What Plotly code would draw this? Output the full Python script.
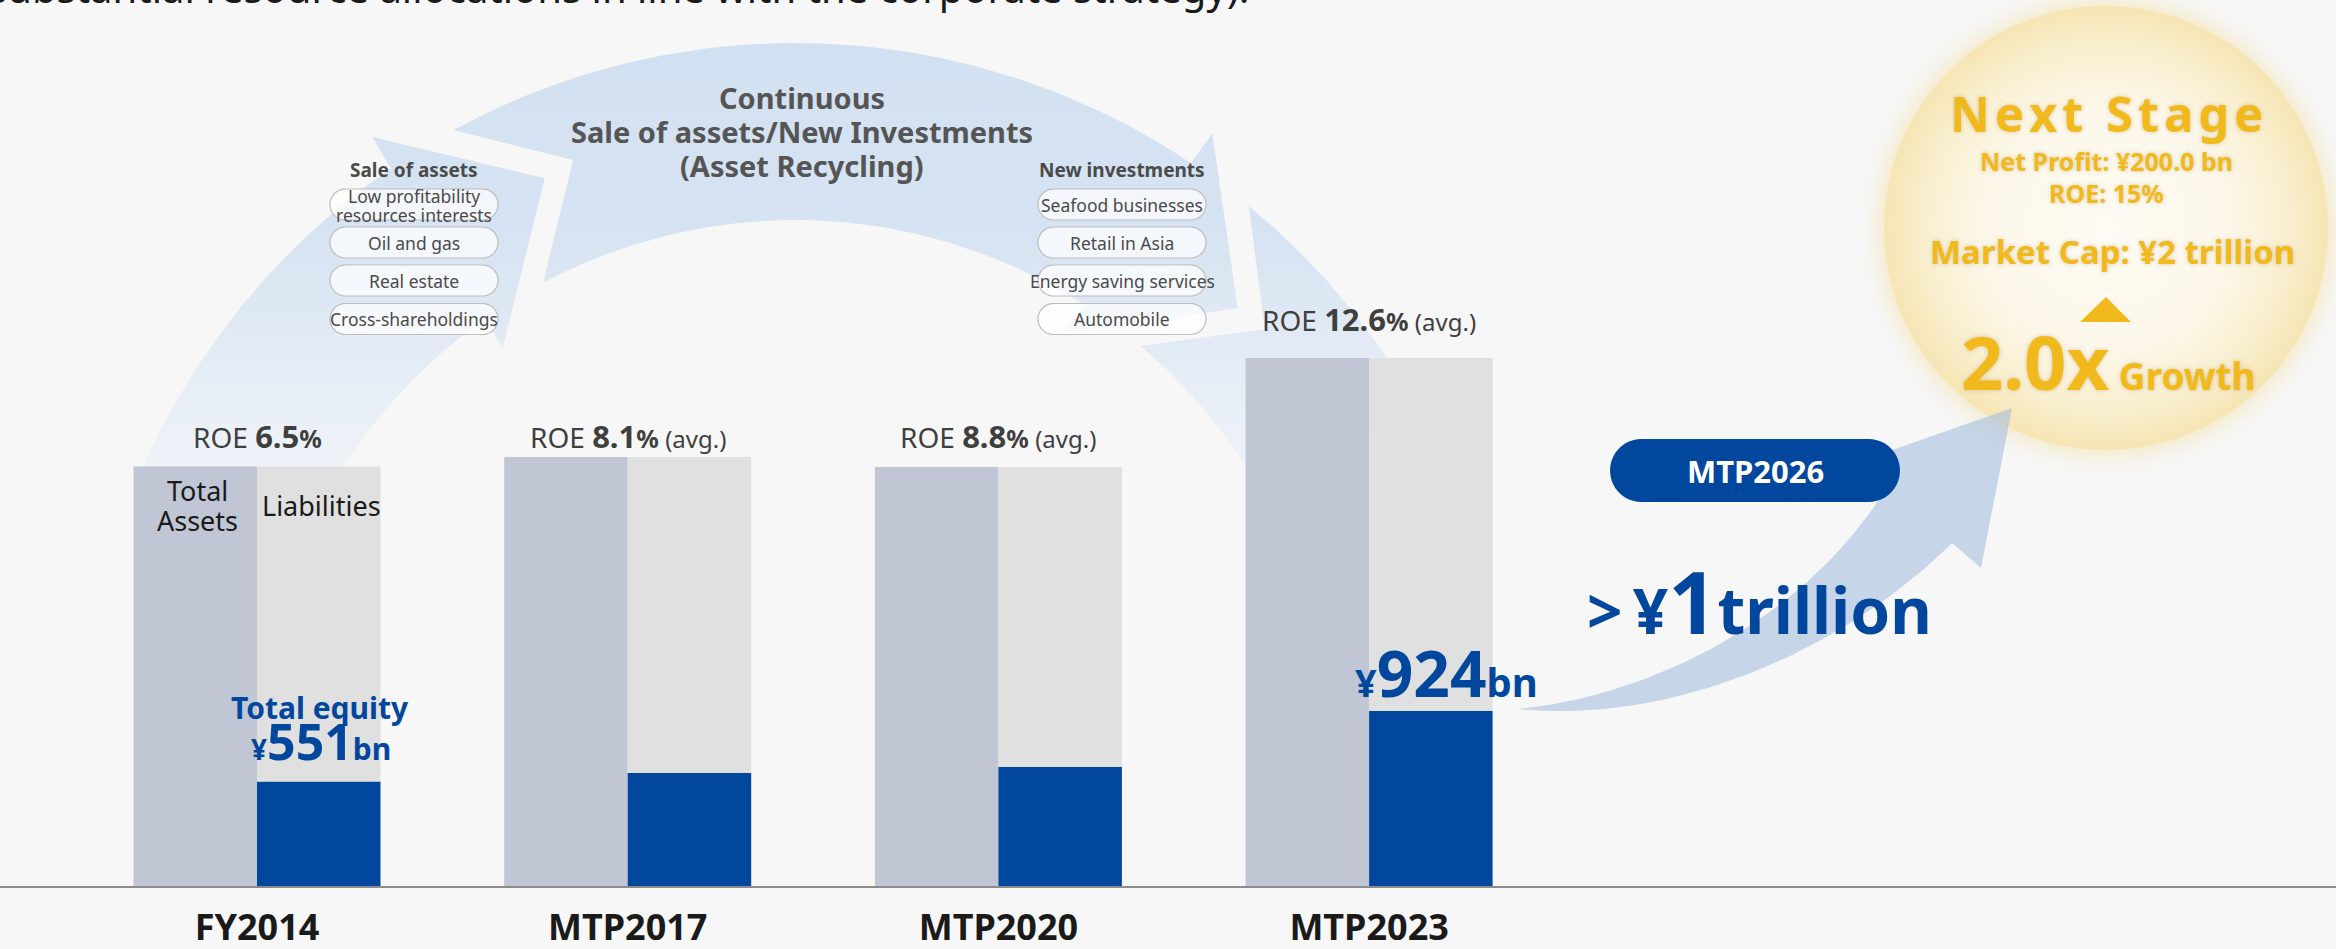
"""
Asset recycling / total equity growth chart (FY2014 -> MTP2026)
"""
import numpy as np
import plotly.graph_objects as go

# ---- data (¥bn) ----
categories = ["FY2014", "MTP2017", "MTP2020", "MTP2023"]
total_assets = [2214, 2264, 2211, 2786]
total_equity = [551, 596, 628, 924]
roe = [6.5, 8.1, 8.8, 12.6]
roe_note = ["", " (avg.)", " (avg.)", " (avg.)"]
sale_items = ["Low profitability<br>resources interests", "Oil and gas", "Real estate", "Cross-shareholdings"]
invest_items = ["Seafood businesses", "Retail in Asia", "Energy saving services", "Automobile"]

liabilities = [a - e for a, e in zip(total_assets, total_equity)]

# ---- look ----
W, H = 2336, 949
BASE = 886                      # baseline in px
PX_PER_BN = 0.1895
CAT0, CAT_STEP = 257, 370.7     # px of first category centre, spacing
BAR_W = 123.5 / CAT_STEP
FONT = "Noto Sans, Open Sans, sans-serif"
BG = "#f7f7f7"
NAVY = "#00479d"
GOLD = "#f1b91b"
C_ASSETS = "#c0c6d3"
C_LIAB = "#e0e0e0"

# big circular "asset recycling" arc
CX, CY, R_OUT, R_IN = 795, 756.5, 713.5, 536.5
CUT_Y = 467


def polar(r, a):
    t = np.radians(a)
    return CX + r * np.cos(t), CY - r * np.sin(t)


def arc(r, a0, a1, n=80):
    a = np.radians(np.linspace(a0, a1, n))
    return list(CX + r * np.cos(a)), list(CY - r * np.sin(a))


def poly(parts):
    xs, ys = [], []
    for p in parts:
        if isinstance(p[0], list):
            xs += p[0]
            ys += p[1]
        else:
            xs.append(p[0])
            ys.append(p[1])
    xs.append(xs[0])
    ys.append(ys[0])
    return xs, ys


a_out = np.degrees(np.arcsin((CY - CUT_Y) / R_OUT))
a_in = np.degrees(np.arcsin((CY - CUT_Y) / R_IN))

seg1 = poly([arc(R_OUT, 180 - a_out, 124.5), polar(750, 124.3), polar(630, 113.4),
             polar(502, 125.6), arc(R_IN, 125.3, 180 - a_in)])
seg2 = poly([arc(R_OUT, 118.6, 56.3), polar(750, 56.2), polar(630, 45.35),
             polar(501, 57.7), arc(R_IN, 57.4, 118.0), polar(636.5, 110.4)])
seg3 = poly([arc(R_OUT, 50.5, a_out), arc(R_IN, a_in, 49.9), polar(635, 42.3)])

fig = go.Figure()

arc_scale = [[0, "#d2e1f1"], [0.45, "#d6e3f2"], [1, "#eff3f8"]]
for xs, ys in (seg1, seg2, seg3):
    fig.add_trace(go.Scatter(
        x=xs, y=ys, mode="lines", fill="toself", line=dict(width=0),
        fillgradient=dict(type="vertical", start=40, stop=CUT_Y, colorscale=arc_scale),
        hoverinfo="skip", xaxis="x", yaxis="y"))

# next stage circle (glow + disc)
NX, NY, NR = 2106, 228, 222
t = np.linspace(0, 2 * np.pi, 241)
fig.add_trace(go.Scatter(
    x=list(NX + (NR + 30) * np.cos(t)), y=list(NY + (NR + 30) * np.sin(t)),
    mode="lines", fill="toself", line=dict(width=0), hoverinfo="skip",
    fillgradient=dict(type="radial", colorscale=[
        [0, "rgba(246,230,184,0.9)"], [0.87, "rgba(246,230,184,0.7)"],
        [0.93, "rgba(244,238,220,0.45)"], [1, "rgba(247,247,247,0)"]])))
fig.add_trace(go.Scatter(
    x=list(NX + NR * np.cos(t)), y=list(NY + NR * np.sin(t)),
    mode="lines", fill="toself", line=dict(width=0), hoverinfo="skip",
    fillgradient=dict(type="radial", colorscale=[
        [0, "#fdfbf4"], [0.55, "#fcf7e9"], [0.82, "#f9efcf"], [1, "#f6e5b4"]])))


# growth arrow towards next stage
def bez(p0, p1, p2, p3, n=60):
    s = np.linspace(0, 1, n)[:, None]
    pts = ((1 - s) ** 3) * np.array(p0) + 3 * ((1 - s) ** 2) * s * np.array(p1) \
        + 3 * (1 - s) * s ** 2 * np.array(p2) + s ** 3 * np.array(p3)
    return list(pts[:, 0]), list(pts[:, 1])


up = bez((1518, 709), (1640, 697), (1800, 628), (1887, 487))
low = bez((1952, 543), (1850, 645), (1680, 725), (1518, 709))
gx = up[0] + [1858, 2012, 1981] + low[0]
gy = up[1] + [462, 408, 568] + low[1]
fig.add_trace(go.Scatter(x=gx, y=gy, mode="lines", fill="toself", line=dict(width=0),
                         fillcolor="rgba(165,190,222,0.6)", hoverinfo="skip"))

# bars
fig.add_trace(go.Bar(x=list(range(4)), y=total_assets, width=BAR_W, offset=-BAR_W,
                     marker=dict(color=C_ASSETS, line_width=0), xaxis="x2", yaxis="y2",
                     name="Total Assets"))
fig.add_trace(go.Bar(x=list(range(4)), y=total_equity, width=BAR_W, offset=0,
                     marker=dict(color=NAVY, line_width=0), xaxis="x2", yaxis="y2",
                     name="Total equity"))
fig.add_trace(go.Bar(x=list(range(4)), y=liabilities, base=total_equity, width=BAR_W, offset=0,
                     marker=dict(color=C_LIAB, line_width=0), xaxis="x2", yaxis="y2",
                     name="Liabilities"))


def pill(xc, yc, w, h):
    r = h / 2
    a1 = np.radians(np.linspace(90, 270, 24))
    a2 = np.radians(np.linspace(-90, 90, 24))
    xs = list(xc - w / 2 + r + r * np.cos(a1)) + list(xc + w / 2 - r + r * np.cos(a2))
    ys = list(yc + r * np.sin(a1)) + list(yc + r * np.sin(a2))
    return "M " + " L ".join(f"{x:.1f},{y:.1f}" for x, y in zip(xs, ys)) + " Z"


shapes = []
ann = []


def txt(x, y, text, size, color, bold=False, **kw):
    d = dict(x=x, y=y, xref="x", yref="y", text=f"<b>{text}</b>" if bold else text,
             showarrow=False, font=dict(family=FONT, size=size, color=color),
             xanchor="center", yanchor="middle")
    d.update(kw)
    ann.append(d)


pill_y = [204.5, 242.5, 280.5, 319]
for xc, head, items in ((414, "Sale of assets", sale_items), (1122, "New investments", invest_items)):
    txt(xc, 170, head, 19, "#4a4a4a", bold=True)
    for yc, it in zip(pill_y, items):
        shapes.append(dict(type="path", path=pill(xc, yc, 168, 31), xref="x", yref="y",
                           fillcolor="rgba(255,255,255,0.72)", line=dict(color="#bdbdbd", width=1.2),
                           layer="above"))
        if "<br>" in it:
            a, b = it.split("<br>")
            txt(xc, yc - 9, a, 17.5, "#4a4a4a")
            txt(xc, yc + 10, b, 17.5, "#4a4a4a")
        else:
            txt(xc, yc, it, 17.5, "#4a4a4a")

# MTP2026 pill + triangle
shapes.append(dict(type="path", path=pill(1755, 470.5, 290, 63), xref="x", yref="y",
                   fillcolor=NAVY, line=dict(width=0), layer="above"))
shapes.append(dict(type="path", path="M 2080,322 L 2106,297 L 2131,322 Z", xref="x", yref="y",
                   fillcolor=GOLD, line=dict(width=0), layer="above"))

# central title
for y, s in ((97, "Continuous"), (131, "Sale of assets/New Investments"), (165, "(Asset Recycling)")):
    txt(802, y, s, 29, "#555555", bold=True)

# ROE labels
roe_y = [436, 436, 436, 319]
for i, (v, note) in enumerate(zip(roe, roe_note)):
    ann.append(dict(x=i, y=roe_y[i], xref="x2", yref="y",
                    text=(f"ROE <b><span style='font-size:31px'>{v}</span>"
                          f"<span style='font-size:25px'>%</span></b>"
                          f"<span style='font-size:24px'>{note}</span>"),
                    showarrow=False, font=dict(family=FONT, size=28, color="#3f3f3f"),
                    xanchor="center", yanchor="middle"))

# in-bar labels
txt(197, 490.5, "Total", 27, "#1a1a1a")
txt(197, 520.5, "Assets", 27, "#1a1a1a")
txt(321, 505, "Liabilities", 27, "#1a1a1a")
txt(320, 707, "Total equity", 30, NAVY, bold=True)
txt(321, 741, (f"<span style='font-size:28px'>¥</span><span style='font-size:50px'>{total_equity[0]}</span>"
               f"<span style='font-size:30px'>bn</span>"), 40, NAVY, bold=True)
txt(1446, 672, (f"<span style='font-size:38px'>¥</span><span style='font-size:64px'>{total_equity[3]}</span>"
                f"<span style='font-size:40px'>bn</span>"), 50, NAVY, bold=True)
txt(1759, 600, ("<span style='font-size:62px'>&gt;\u2009¥</span>"
                "<span style='font-size:86px'>1</span><span style='font-size:64px'>trillion</span>"),
    60, NAVY, bold=True)
txt(1755, 471, "MTP2026", 31, "white", bold=True)

# next stage texts
sh = "0px 0px 4px rgba(150,120,40,0.35)"
ns = "\u200a".join("Next Stage")
for x, y, s, size in ((2106, 113, ns, 49), (2106, 161, "Net Profit: ¥200.0 bn", 25),
                      (2106, 193, "ROE: 15%", 25), (2112, 251.5, "Market Cap: ¥2 trillion", 33),
                      (2108, 361, "<span style='font-size:74px'>2.0x</span> "
                                  "<span style='font-size:37px'>Growth</span>", 37)):
    txt(x, y, s, size, GOLD, bold=True)
    ann[-1]["font"]["shadow"] = sh

# clipped line of body text at the very top (paper coords so it is not hidden)
ann.append(dict(x=-14 / W, y=1 + 12 / BASE, xref="paper", yref="paper",
                text="substantial resource allocations in line with the corporate strategy).",
                showarrow=False, font=dict(family=FONT, size=40, color="#1a1a1a"),
                xanchor="left", yanchor="middle"))

fig.update_layout(
    width=W, height=H,
    margin=dict(l=0, r=0, t=0, b=H - BASE),
    paper_bgcolor=BG, plot_bgcolor=BG,
    showlegend=False, barmode="overlay",
    font=dict(family=FONT),
    xaxis=dict(range=[0, W], visible=False),
    yaxis=dict(range=[BASE, 0], visible=False),
    xaxis2=dict(overlaying="x", anchor="y2", side="bottom",
                range=[-CAT0 / CAT_STEP, (W - CAT0) / CAT_STEP],
                tickvals=list(range(len(categories))), ticktext=categories,
                tickfont=dict(family=FONT, size=36, color="#1a1a1a", weight=700),
                ticks="", ticklabelstandoff=9, showline=True, linecolor="#8c8c8c",
                linewidth=2, showgrid=False, zeroline=False, automargin=False),
    yaxis2=dict(overlaying="y", range=[0, BASE / PX_PER_BN], visible=False),
    shapes=shapes,
    annotations=ann,
)

fig.write_html("out.html", config={"displayModeBar": False},
               post_script="document.body.style.margin='0';")
